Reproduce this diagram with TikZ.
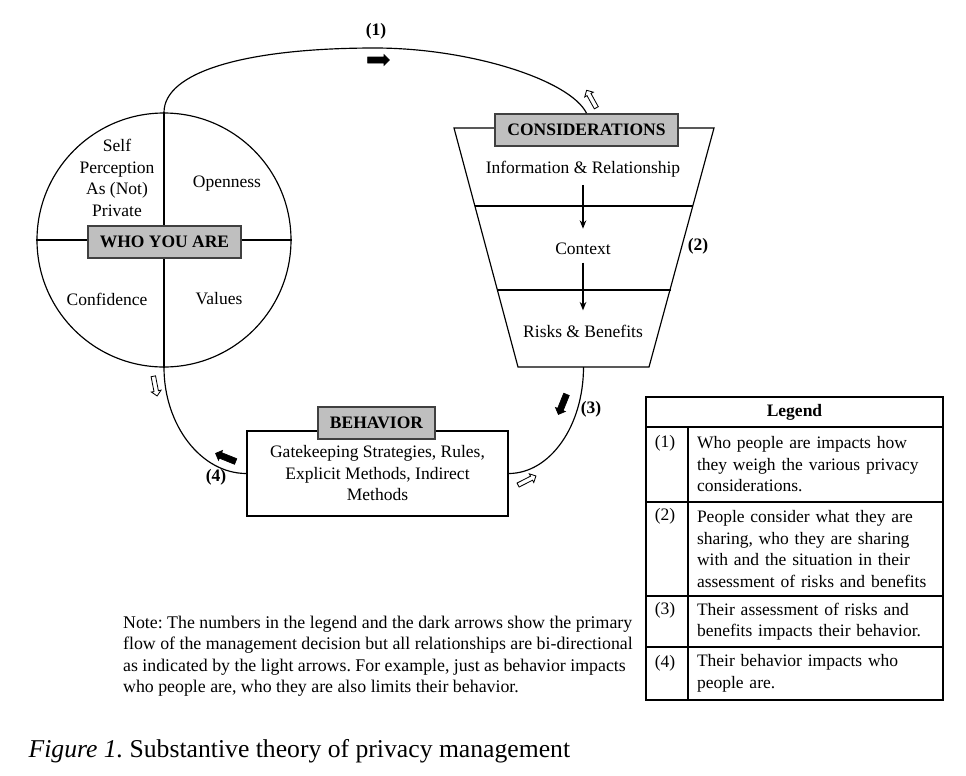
\documentclass[tikz,border=0pt]{standalone}
\usepackage{fontspec}
\setmainfont{Liberation Serif}
\usepackage{tikz}
\usetikzlibrary{
    shapes.geometric,
    shapes.arrows,
    arrows.meta,
    positioning,
    calc
}
\newcommand{\txtsize}{\fontsize{10.5}{12.9}\selectfont\frenchspacing}

\begin{document}
\begin{tikzpicture}[
    x=0.6pt, y=-0.6pt,
    line width=0.7pt,
    every node/.style={font=\txtsize},
    ring/.style={
        circle,
        draw=black,
        minimum size=152.4pt,
        inner sep=0pt
    },
    labelbox/.style={
        rectangle,
        draw=black!75,
        line width=1pt,
        fill=gray!50,
        font=\txtsize\bfseries,
        minimum height=19.2pt,
        inner sep=2pt
    },
    mainbox/.style={
        rectangle,
        draw=black,
        fill=white,
        align=center,
        inner sep=2pt
    },
    cell/.style={
        rectangle,
        draw=black,
        inner sep=0pt
    },
    celltext/.style={
        rectangle,
        draw=black,
        align=left,
        text width=142.2pt,
        inner xsep=5.4pt,
        inner ysep=0pt
    },
    numlabel/.style={font=\txtsize\bfseries},
    darkarr/.style={
        single arrow,
        draw=black,
        fill=black,
        line width=0.4pt,
        inner sep=1.6pt,
        single arrow head extend=1.4pt,
        minimum height=13pt
    },
    lightarr/.style={
        single arrow,
        draw=black,
        fill=white,
        line width=0.5pt,
        inner sep=1.1pt,
        single arrow head extend=1.6pt,
        minimum height=12pt
    },
    conn/.style={draw, line width=0.7pt},
    flow/.style={draw, line width=0.7pt, -{Stealth[length=5pt, width=4pt]},
        shorten >=5pt, shorten <=1pt}
]
\useasboundingbox (0,0) rectangle (966,775);

% Who you are
\node[ring] (wya) at (164,240) {};
\draw (wya.west) -- (wya.east);
\draw (wya.north) -- (wya.south);
\node[labelbox, minimum width=91.8pt] (wyalabel) at (164.5,242) {WHO YOU ARE};
\node[align=center] (selfp) at (117,178) {Self\\Perception\\As (Not)\\Private};
\node (open) at (227,184) {Openness};
\node (conf) at (107,299) {Confidence};
\node (vals) at (219,299) {Values};

% Considerations funnel
\draw (454,128) -- (714,128) -- (649,367) -- (518,367) -- cycle;
\draw (475,206) -- (693,206);
\draw (497,290) -- (671,290);
\coordinate (funnelbot) at (583.5,367);
\node[labelbox, minimum width=109.8pt] (cons) at (586.5,130) {CONSIDERATIONS};
\node (info) at (583,169) {Information \& Relationship};
\node (ctx) at (583,249) {Context};
\node (risk) at (583,331) {Risks \& Benefits};
\draw[flow] (info) -- (ctx);
\draw[flow] (ctx) -- (risk);

% Behavior
\node[mainbox, minimum width=156.6pt, minimum height=51pt] (beh) at (377.5,473.5)
    {Gatekeeping Strategies, Rules,\\Explicit Methods, Indirect\\Methods};
\node[labelbox, minimum width=70.2pt] (behlabel) at (376.5,423) {BEHAVIOR};

% Cycle
\draw[conn] (wya.north) .. controls (164,72) and (245,48) .. (375,48)
    .. controls (470,48) and (570,80) .. (cons.north);
\draw[conn] (funnelbot) .. controls (583.5,426) and (550,473.5) .. (beh.east);
\draw[conn] (wya.south) .. controls (164,425) and (201,473.5) .. (beh.west);

% Step numbers
\node[numlabel] (s1) at (376,31) {(1)};
\node[numlabel] (s2) at (698,246) {(2)};
\node[numlabel] (s3) at (591,409) {(3)};
\node[numlabel] (s4) at (216,477) {(4)};

% Dark and light arrows
\node[darkarr] (d1) at (377,60) {};
\node[darkarr, rotate=-112] (d3) at (563,403) {};
\node[darkarr, rotate=158] (d4) at (227,458) {};
\node[lightarr, rotate=119] (l1) at (592,100) {};
\node[lightarr, rotate=27] (l3) at (526,481) {};
\node[lightarr, rotate=-79] (l4) at (155,385) {};

% Legend table
\node[cell, minimum width=178.2pt, minimum height=18pt, font=\txtsize\bfseries] (lgd) at (794.5,412) {Legend};
\node[cell, minimum width=25.2pt, minimum height=45pt] (c1) at (667,464.5) {};
\node[celltext, minimum height=45pt] (t1) at (815.5,464.5)
    {Who people are impacts how\\they weigh the various privacy\\considerations.};
\node[cell, minimum width=25.2pt, minimum height=56.4pt] (c2) at (667,549) {};
\node[celltext, minimum height=56.4pt] (t2) at (815.5,549)
    {People consider what they are\\sharing, who they are sharing\\with and the situation in their\\assessment of risks and benefits};
\node[cell, minimum width=25.2pt, minimum height=30.6pt] (c3) at (667,621.5) {};
\node[celltext, minimum height=30.6pt] (t3) at (815.5,621.5)
    {Their assessment of risks and\\benefits impacts their behavior.};
\node[cell, minimum width=25.2pt, minimum height=31.8pt] (c4) at (667,673.5) {};
\node[celltext, minimum height=31.8pt] (t4) at (815.5,673.5)
    {Their behavior impacts who\\people are.};
\node (r1) at (665,443) {(1)};
\node (r2) at (665,516) {(2)};
\node (r3) at (665,610) {(3)};
\node (r4) at (665,663) {(4)};

% Note
\node[anchor=west, align=left, font=\fontsize{10.7}{12.9}\selectfont\frenchspacing] (note) at (117,656)
    {Note: The numbers in the legend and the dark arrows show the primary\\
     flow of the management decision but all relationships are bi-directional\\
     as indicated by the light arrows. For example, just as behavior impacts\\
     who people are, who they are also limits their behavior.};

% Caption
\node[anchor=west, font=\fontsize{15.4}{18}\selectfont\frenchspacing] (caption) at (22.5,751)
    {\textit{Figure 1.} Substantive theory of privacy management};

\end{tikzpicture}
\end{document}
